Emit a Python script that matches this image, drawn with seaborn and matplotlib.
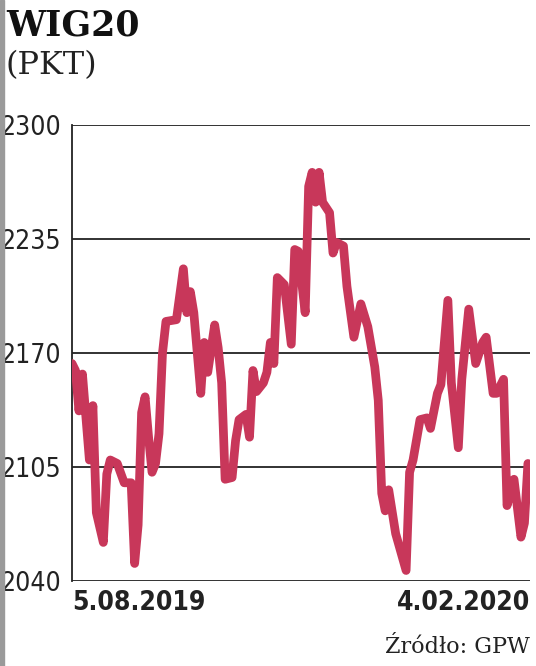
import matplotlib
matplotlib.use('Agg')
import matplotlib.pyplot as plt
import seaborn as sns
import pandas as pd
from matplotlib import font_manager as fm

sns.set_style('white')

# trading-day index (from 5.08.2019) and WIG20 close
day = [0, 1, 2, 3, 5, 6, 7, 9, 10, 11, 13, 15, 17, 18, 19, 20, 21, 22, 23, 24,
       25, 26, 27, 30, 32, 33, 34, 35, 37, 38, 39, 41, 42, 43, 44, 46, 47, 48, 50, 51,
       52, 53, 55, 56, 57, 58, 59, 61, 63, 64, 65, 67, 68, 69, 70, 71, 72, 74, 75, 76,
       78, 79, 81, 83, 85, 87, 88, 89, 90, 91, 93, 96, 97, 98, 100, 102, 103, 105, 106, 108,
       109, 111, 112, 114, 116, 118, 119, 121, 122, 124, 125, 127, 129, 130, 131]
wig20 = [2164, 2160, 2137, 2158, 2109, 2140, 2079, 2062, 2101, 2109, 2107, 2096, 2096, 2050, 2072, 2136, 2145, 2122, 2102, 2107,
         2124, 2170, 2188, 2189, 2218, 2193, 2205, 2193, 2147, 2176, 2159, 2186, 2173, 2153, 2098, 2099, 2120, 2132, 2135, 2122,
         2160, 2148, 2153, 2159, 2176, 2164, 2213, 2209, 2175, 2229, 2228, 2193, 2265, 2273, 2256, 2273, 2256, 2250, 2227, 2233,
         2231, 2208, 2179, 2198, 2185, 2162, 2143, 2090, 2080, 2092, 2067, 2046, 2102, 2109, 2132, 2133, 2127, 2147, 2152, 2200,
         2153, 2116, 2155, 2195, 2164, 2176, 2179, 2147, 2147, 2155, 2083, 2098, 2065, 2073, 2107]

yticks = [2040, 2105, 2170, 2235, 2300]
date_labels = ['5.08.2019', '4.02.2020']

# narrow sans for the numbers, if one is installed
narrow = None
for f in fm.fontManager.ttflist:
    n = f.name
    if 'Sans' in n and 'Mono' not in n and 'Serif' not in n and 'CJK' not in n:
        if f.stretch in ('condensed', 'semi-condensed') or 'Narrow' in n or 'Condensed' in n:
            narrow = n
            break
num_font = dict(family=[narrow or 'Liberation Sans', 'DejaVu Sans'])
if narrow is None or 'Condensed' not in narrow and 'Narrow' not in narrow:
    num_font['fontstretch'] = 'condensed'

df = pd.DataFrame({'day': day, 'wig20': wig20})

fig = plt.figure(figsize=(5.36, 6.66), dpi=100)
ax = fig.add_axes([72 / 536, 1 - 581 / 666, 458 / 536, 456 / 666])

for v in yticks:
    ax.axhline(v, color='#222222', lw=1.3, zorder=1)

sns.lineplot(data=df, x='day', y='wig20', ax=ax, color='#c8375a', lw=6.3,
             solid_capstyle='round', solid_joinstyle='round', zorder=3)

ax.set_xlim(0, 131.6)
ax.set_ylim(2040, 2300)
ax.set_yticks(yticks)
ax.set_yticklabels([str(v) for v in yticks], fontsize=19, color='#222222', **num_font)
ax.tick_params(axis='y', length=0, pad=8)
ax.set_xticks([])
ax.set_xlabel('')
ax.set_ylabel('')
for s in ['top', 'right', 'bottom']:
    ax.spines[s].set_visible(False)
ax.spines['left'].set_color('#222222')
ax.spines['left'].set_linewidth(1.3)

ax.text(0, -0.02, date_labels[0], transform=ax.transAxes, ha='left', va='top',
        fontsize=19, fontweight='bold', color='#222222', **num_font)
ax.text(1, -0.02, date_labels[1], transform=ax.transAxes, ha='right', va='top',
        fontsize=19, fontweight='bold', color='#222222', **num_font)

fig.text(6 / 536, 1 - 8 / 666, 'WIG20', ha='left', va='top', fontsize=25,
         fontweight='bold', family=['DejaVu Serif'], color='#111111')
fig.text(5 / 536, 1 - 50 / 666, '(PKT)', ha='left', va='top', fontsize=23,
         family=['DejaVu Serif'], color='#222222')
fig.text(530 / 536, 1 - 636 / 666, 'Źródło: GPW', ha='right', va='top', fontsize=16,
         family=['DejaVu Serif'], color='#222222')

# scanned edge on the left
fig.patches.append(plt.Rectangle((0, 0), 4 / 536, 1, transform=fig.transFigure,
                                 color='#9a9a9a', zorder=0))

fig.savefig('out.png', dpi=100)
